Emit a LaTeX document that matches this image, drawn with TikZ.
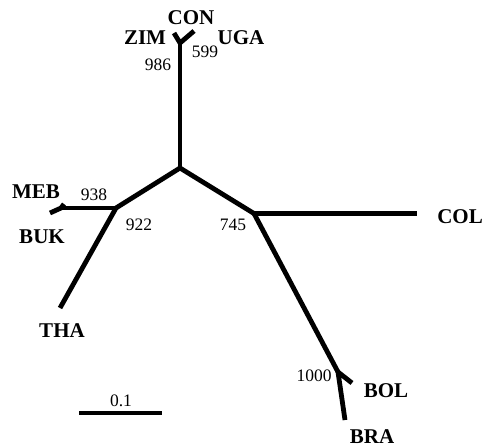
\documentclass[tikz,border=0pt]{standalone}
\usepackage{fontspec}
\setmainfont{Liberation Serif}
\begin{document}
\begin{tikzpicture}[x=1pt,y=-1pt,
  branch/.style={line width=4.8pt,line cap=butt,line join=miter},
  taxon/.style={font=\fontsize{21}{21}\selectfont\bfseries,inner sep=0pt},
  boot/.style={font=\fontsize{17.5}{17.5}\selectfont,inner sep=0pt}]
\useasboundingbox (0,0) rectangle (489,447);
% internal nodes and tips
\coordinate (c) at (180,168);
\coordinate (t) at (180,43);
\coordinate (zimt) at (174,33);
\coordinate (ugat) at (194,31);
\coordinate (l) at (116,208);
\coordinate (m) at (61,208);
\coordinate (mebt) at (64,204);
\coordinate (bukt) at (50,213);
\coordinate (thai) at (60,308);
\coordinate (r) at (254,213.5);
\coordinate (colt) at (417,213.5);
\coordinate (b) at (338,372);
\coordinate (bolt) at (352,383);
\coordinate (brat) at (345,420);
\coordinate (sa) at (79,413);
\coordinate (sb) at (162,413);
% branches
\draw[branch] (c) -- (t);
\draw[branch] (zimt) -- (t) -- (ugat);
\draw[branch] (c) -- (l);
\draw[branch] (l) -- (m);
\draw[branch] (mebt) -- (m) -- (bukt);
\draw[branch] (l) -- (thai);
\draw[branch] (c) -- (r);
\draw[branch] (r) -- (colt);
\draw[branch] (r) -- (b);
\draw[branch] (bolt) -- (b) -- (brat);
\draw[line width=4pt] (sa) -- (sb);
% labels
\node[taxon] (con) at (191,18) {CON};
\node[taxon] (zim) at (145,38) {ZIM};
\node[taxon] (uga) at (241,38) {UGA};
\node[taxon] (meb) at (36,192) {MEB};
\node[taxon] (buk) at (42,237) {BUK};
\node[taxon] (tha) at (62,331) {THA};
\node[taxon] (col) at (460,217) {COL};
\node[taxon] (bol) at (386,391) {BOL};
\node[taxon] (bra) at (372,437) {BRA};
\node[boot] (b986) at (158,65) {986};
\node[boot] (b599) at (205,52) {599};
\node[boot] (b938) at (94,195) {938};
\node[boot] (b922) at (139,225) {922};
\node[boot] (b745) at (233,225) {745};
\node[boot] (b1000) at (314,376) {1000};
\node[boot] (scale) at (121,401) {0.1};
\end{tikzpicture}
\end{document}
